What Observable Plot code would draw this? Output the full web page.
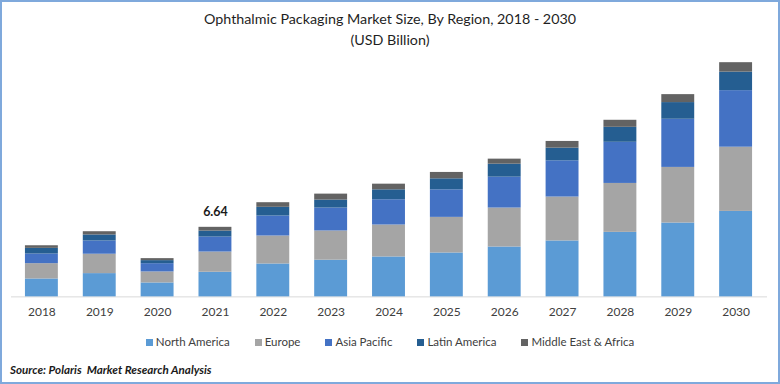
<!DOCTYPE html>
<html>
<head>
<meta charset="utf-8">
<script src="https://cdn.jsdelivr.net/npm/d3@7"></script>
<script src="https://cdn.jsdelivr.net/npm/@observablehq/plot@0.6"></script>
<style>
  body { margin: 0; background: #fff; }
  #frame { position: relative; width: 780px; height: 384px; box-sizing: border-box; border: 2px solid #7fa9dc; overflow: hidden; font-family: Lato, "Open Sans", sans-serif; background: #fff; }
  #title { position: absolute; top: 5.5px; left: -2px; width: 780px; text-align: center; font-size: 14.3px; line-height: 21px; color: #1f1f1f; }
  #chart { position: absolute; top: 46px; left: -2px; }
  #legend { position: absolute; top: 332px; left: -2px; width: 780px; display: flex; justify-content: center; gap: 25px; font-size: 11.5px; line-height: 16px; color: #404040; }
  #legend .item { display: flex; align-items: center; }
  #legend .sw { width: 7px; height: 7px; margin-right: 3px; }
  #source { position: absolute; top: 360px; left: 8px; font-size: 11.6px; line-height: 16px; font-weight: bold; font-style: italic; color: #1a1a1a; }
</style>
</head>
<body>
<div id="frame">
  <div id="title">Ophthalmic Packaging Market Size, By Region, 2018 - 2030<br>(USD Billion)</div>
  <div id="chart"></div>
  <div id="legend"></div>
  <div id="source">Source: Polaris&nbsp; Market Research Analysis</div>
</div>
<script>
const years = ["2018","2019","2020","2021","2022","2023","2024","2025","2026","2027","2028","2029","2030"];
const regions = ["North America","Europe","Asia Pacific","Latin America","Middle East & Africa"];
const colors = ["#5b9bd5","#a5a5a5","#4472c4","#255e91","#636363"];
const northAmerica = [1.71,2.22,1.33,2.35,3.14,3.50,3.81,4.19,4.76,5.34,6.16,7.05,8.16];
const europe       = [1.46,1.85,1.05,1.93,2.67,2.79,3.05,3.40,3.72,4.19,4.67,5.31,6.13];
const asiaPacific  = [0.92,1.27,0.79,1.43,1.91,2.19,2.41,2.63,2.95,3.46,3.93,4.60,5.40];
const latinAmerica = [0.54,0.57,0.29,0.57,0.83,0.76,0.95,1.05,1.24,1.21,1.43,1.59,1.77];
const middleEastAfrica = [0.25,0.31,0.19,0.36,0.44,0.57,0.54,0.61,0.48,0.64,0.67,0.76,0.90];
const labelYears = ["2021"];

const series = [northAmerica, europe, asiaPacific, latinAmerica, middleEastAfrica];
const rows = [];
years.forEach((y, i) => regions.forEach((r, j) => rows.push({year: y, region: r, value: series[j][i]})));
const totals = years.map((y, i) => ({year: y, total: series.reduce((s, a) => s + a[i], 0)}));
const labelled = totals.filter(d => labelYears.includes(d.year));

const chart = Plot.plot({
  width: 780,
  height: 280,
  marginLeft: 11,
  marginRight: 11,
  marginTop: 7.5,
  marginBottom: 31,
  style: {background: "transparent", fontFamily: "Lato, 'Open Sans', sans-serif", fontSize: "12px", color: "#404040"},
  x: {domain: years, paddingInner: 0.425, paddingOuter: 0.2125, label: null, tickSize: 0, tickPadding: 11},
  y: {domain: [0, 23], axis: null},
  color: {domain: regions, range: colors},
  marks: [
    Plot.ruleY([0], {stroke: "#d9d9d9", strokeWidth: 1}),
    Plot.barY(rows, {x: "year", y: "value", fill: "region", order: regions}),
    Plot.text(labelled, {x: "year", y: "total", text: d => d.total.toFixed(2), dy: -15, fontWeight: "bold", fontSize: 12.5, fill: "#1a1a1a"})
  ]
});
document.getElementById("chart").appendChild(chart);

const legend = document.getElementById("legend");
regions.forEach((r, j) => {
  const item = document.createElement("div");
  item.className = "item";
  const sw = document.createElement("span");
  sw.className = "sw";
  sw.style.background = colors[j];
  const t = document.createElement("span");
  t.textContent = r;
  item.appendChild(sw);
  item.appendChild(t);
  legend.appendChild(item);
});
</script>
</body>
</html>
